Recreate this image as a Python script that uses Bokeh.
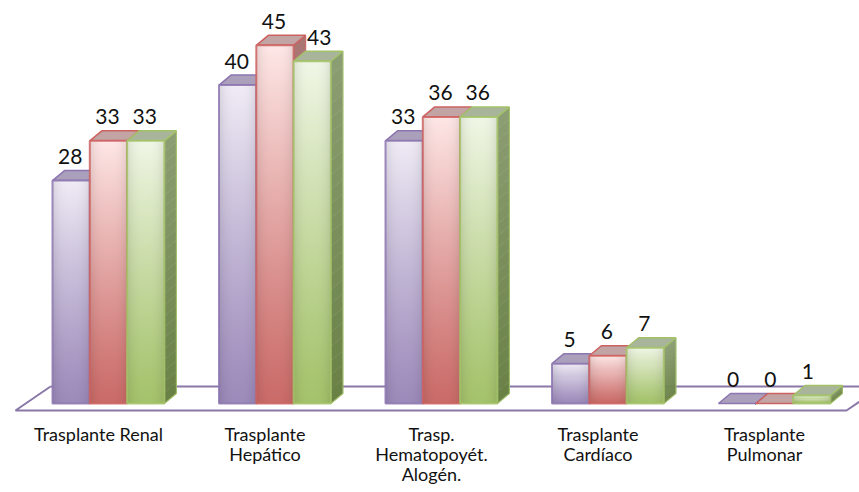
import numpy as np
from bokeh.plotting import figure
from bokeh.core.properties import value
from bokeh.embed import file_html
from bokeh.resources import INLINE

categories = ["Trasplante Renal", "Trasplante\nHepático", "Trasp.\nHematopoyét.\nAlogén.",
              "Trasplante\nCardíaco", "Trasplante\nPulmonar"]
serie_a = [28, 40, 33, 5, 0]
serie_b = [33, 45, 36, 6, 0]
serie_c = [33, 43, 36, 7, 1]

series = [serie_a, serie_b, serie_c]
border = ["#8d75b0", "#cc6260", "#a3c267"]
bottom_col = [(157, 139, 187), (203, 108, 105), (165, 195, 108)]
top_col = [(240, 236, 246), (254, 232, 231), (241, 247, 231)]
side_top = [(150, 138, 170), (170, 120, 118), (140, 158, 115)]
side_bot = [(105, 88, 135), (140, 70, 68), (106, 129, 70)]
roof = ["#aaa0bc", "#c2a4a4", "#a9b59a"]

PITCH = 166.5
UNIT = 7.96
bw = 37.3 / PITCH
dx = 12 / PITCH
dy = 10 / UNIT
start = -46 / PITCH

p = figure(width=859, height=492, output_backend="svg", toolbar_location=None,
           x_range=(-98 / PITCH, 761 / PITCH), y_range=(-89 / UNIT, 403 / UNIT),
           min_border_left=0, min_border_right=0, min_border_top=0, min_border_bottom=0,
           outline_line_color=None, background_fill_color="white", border_fill_color="white")
p.grid.visible = False
p.axis.visible = False

# floor
fy0, fy1 = -7 / UNIT, 17 / UNIT
fl = -83 / PITCH
fr = 748 / PITCH
fs = 35 / PITCH
p.line([fl + fs, fl, fr, fr + fs], [fy1, fy0, fy0, fy1], line_color="#8a78a8", line_width=2)
p.line([fl + fs, fr + fs], [fy1, fy1], line_color="#8a78a8", line_width=2)


def face(v, c0, c1):
    h = max(int(v * UNIT), 2)
    w = 37
    t = (np.arange(h) / max(h - 1, 1))[:, None] ** 1.15
    xs = np.arange(w) / (w - 1)
    edge = 1 - 0.09 * np.abs(2 * xs - 1) ** 3
    img = np.zeros((h, w), dtype=np.uint32)
    view = img.view(dtype=np.uint8).reshape((h, w, 4))
    for k in range(3):
        view[:, :, k] = np.clip((c0[k] + (c1[k] - c0[k]) * t) * edge[None, :], 0, 255)
    view[:, :, 3] = 255
    return img


for g in range(len(categories)):
    for j, s in enumerate(series):
        v = s[g]
        x0 = g + start + j * bw
        x1 = x0 + bw
        # side, in vertical slices
        n = 24
        for k in range(n):
            a = v * k / n
            b = v * (k + 1) / n
            f = (k + 0.5) / n
            col = tuple(int(side_bot[j][m] + (side_top[j][m] - side_bot[j][m]) * f) for m in range(3))
            p.patch([x1, x1 + dx, x1 + dx, x1], [a, a + dy, b + dy, b], fill_color="#%02x%02x%02x" % col,
                    line_color="#%02x%02x%02x" % col, line_width=0.5)
        # roof
        p.patch([x0, x1, x1 + dx, x0 + dx], [v, v, v + dy, v + dy], fill_color=roof[j],
                line_color=border[j], line_width=1.5)
        # outer edge of the side
        p.line([x1, x1 + dx, x1 + dx], [0, dy, v + dy], line_color=border[j], line_width=1.2, line_alpha=0.8)
        # front
        if v > 0:
            p.image_rgba(image=[face(v, bottom_col[j], top_col[j])], x=x0, y=0, dw=bw, dh=v)
            p.quad(left=[x0], right=[x1], bottom=[0], top=[v], fill_color=None, line_color=border[j],
                   line_width=2, line_alpha=0.85)

# value labels
for g in range(len(categories)):
    for j, s in enumerate(series):
        v = s[g]
        xc = g + start + (j + 0.5) * bw - 1 / PITCH
        if v == 43:
            xc += 8 / PITCH
        if v == 0 or v == 1:
            xc -= 3 / PITCH
        p.text([xc], [v + dy], text=[str(v)], text_font=value("Lato"), text_font_size="21px",
               text_align="center", text_baseline="middle", text_color="#111111", y_offset=-14)

# category labels
p.text(list(range(len(categories))), [-19 / UNIT] * len(categories), text=categories,
       text_font=value("Lato"), text_font_size="18px", text_align="center", text_baseline="top",
       text_line_height=0.92, text_color="#111111")

html = file_html(p, INLINE)
open("out.html", "w").write(html)
